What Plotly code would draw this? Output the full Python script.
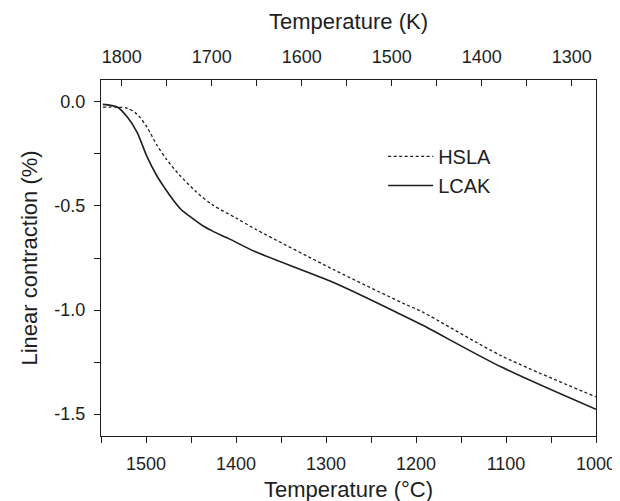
import plotly.graph_objects as go

# Data
temp_c_hsla = [1548, 1532, 1521, 1510, 1499, 1488, 1477, 1462, 1444, 1426, 1400, 1379,
               1291, 1215, 1193, 1105, 1000]
lin_hsla = [-0.025, -0.026, -0.030, -0.059, -0.121, -0.207, -0.277, -0.355, -0.433, -0.495,
            -0.558, -0.610, -0.807, -0.966, -1.009, -1.220, -1.417]

temp_c_lcak = [1548, 1532, 1521, 1510, 1499, 1488, 1479, 1470, 1461, 1452, 1437, 1426, 1408,
               1379, 1291, 1215, 1193, 1105, 1000]
lin_lcak = [-0.012, -0.025, -0.072, -0.145, -0.262, -0.355, -0.415, -0.470, -0.517, -0.548,
            -0.595, -0.621, -0.657, -0.719, -0.869, -1.025, -1.072, -1.274, -1.477]

x_range_c = [1550, 1000]
y_range = [-1.605, 0.105]
x_ticks_c = [1500, 1400, 1300, 1200, 1100, 1000]
x_minor_c = [1550, 1450, 1350, 1250, 1150, 1050]
x_ticks_k = [1800, 1700, 1600, 1500, 1400, 1300]
x_minor_k = [1750, 1650, 1550, 1450, 1350]
y_ticks = [0.0, -0.5, -1.0, -1.5]
y_ticklabels = ["0.0", "-0.5", "-1.0", "-1.5"]
y_minor = [-0.25, -0.75, -1.25]
K_OFFSET = 273.15

FONT = "Liberation Sans, Arial, sans-serif"
INK = "#1e1e1e"

fig = go.Figure()
fig.add_trace(go.Scatter(x=temp_c_hsla, y=lin_hsla, mode="lines", name="HSLA",
                         line=dict(color=INK, width=1.3, dash="3px,2.5px", shape="spline", smoothing=0.8)))
fig.add_trace(go.Scatter(x=temp_c_lcak, y=lin_lcak, mode="lines", name="LCAK",
                         line=dict(color=INK, width=1.6, shape="spline", smoothing=0.8)))
# invisible trace to anchor the top Kelvin axis
fig.add_trace(go.Scatter(x=[t + K_OFFSET for t in temp_c_lcak], y=lin_lcak, xaxis="x2",
                         mode="lines", line=dict(width=0), opacity=0, showlegend=False,
                         hoverinfo="skip"))

axis_common = dict(showgrid=False, zeroline=False, showline=True, linecolor=INK,
                   linewidth=1.3, tickcolor=INK, tickwidth=1.2,
                   tickfont=dict(family=FONT, size=18, color=INK))
title_font = dict(family=FONT, size=22, color=INK)
minor_common = dict(ticklen=6, tickcolor=INK, tickwidth=1.2)

fig.update_layout(
    width=620, height=501,
    margin=dict(l=93, r=23, t=72, b=63),
    paper_bgcolor="white", plot_bgcolor="white",
    font=dict(family=FONT, color=INK),
    xaxis=dict(range=x_range_c, tickmode="array", tickvals=x_ticks_c, ticks="outside", ticklen=6,
               ticklabelstandoff=5,
               minor=dict(tickvals=x_minor_c, ticks="outside", **minor_common),
               title=dict(text="Temperature (°C)", font=title_font, standoff=8),
               **axis_common),
    xaxis2=dict(range=[x_range_c[0] + K_OFFSET, x_range_c[1] + K_OFFSET], overlaying="x", side="top",
                anchor="y", tickmode="array", tickvals=x_ticks_k, ticks="inside", ticklen=6,
                ticklabelstandoff=9,
                minor=dict(tickvals=x_minor_k, ticks="inside", **minor_common),
                title=dict(text="Temperature (K)", font=title_font, standoff=10),
                **axis_common),
    yaxis=dict(range=y_range, tickmode="array", tickvals=y_ticks, ticktext=y_ticklabels,
               ticks="outside", ticklen=6, mirror=True, ticklabelstandoff=5,
               minor=dict(tickvals=y_minor, ticks="outside", **minor_common),
               title=dict(text="Linear contraction (%)", font=title_font, standoff=10),
               **axis_common),
    legend=dict(x=0.57, y=0.84, xanchor="left", yanchor="top", bgcolor="rgba(0,0,0,0)",
                font=dict(family=FONT, size=20, color=INK), tracegroupgap=0, itemwidth=45),
)

fig.write_html("out.html")
